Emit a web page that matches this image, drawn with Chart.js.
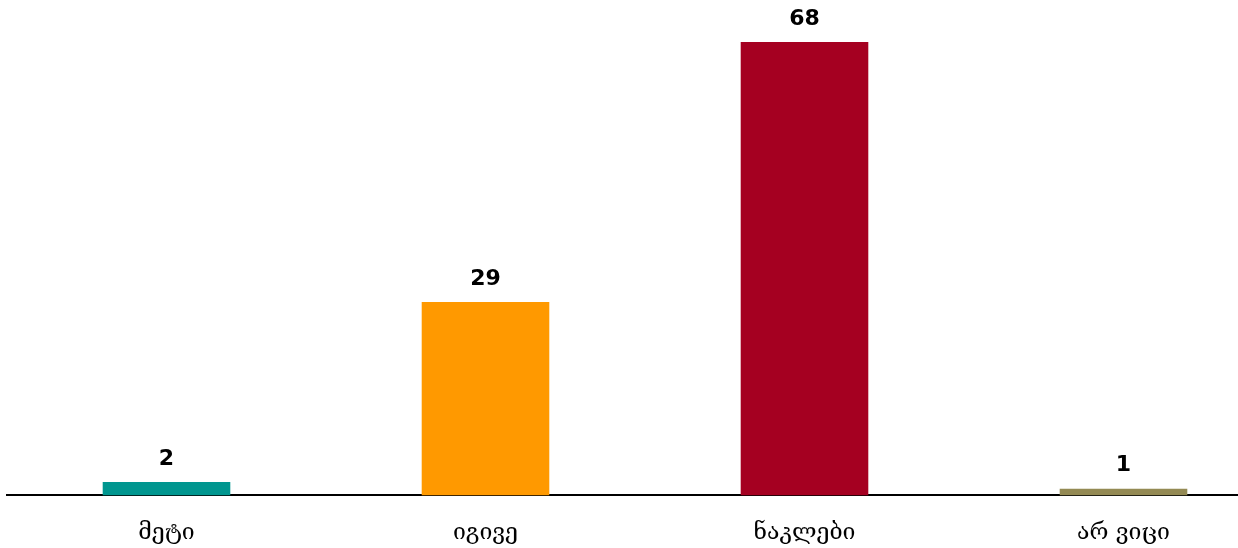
<!DOCTYPE html>
<html>
<head>
<meta charset="utf-8">
<script src="https://cdn.jsdelivr.net/npm/chart.js@4/dist/chart.umd.min.js"></script>
<style>
html,body{margin:0;padding:0;background:#fff;overflow:hidden;}
#wrap{position:relative;width:1283px;height:571px;}
</style>
</head>
<body>
<div id="wrap"><canvas id="c"></canvas></div>
<script>
const categories = ["მეტი", "იგივე", "ნაკლები", "არ ვიცი"];
const values = [2, 29, 68, 1];
const barColors = ["#00968f", "#ff9900", "#a50021", "#948a54"];

const valueLabels = {
  id: 'valueLabels',
  afterDatasetsDraw(chart) {
    const ctx = chart.ctx;
    const meta = chart.getDatasetMeta(0);
    ctx.save();
    ctx.font = 'bold 22px "DejaVu Sans"';
    ctx.fillStyle = '#000';
    ctx.textAlign = 'center';
    ctx.textBaseline = 'bottom';
    meta.data.forEach((bar, i) => {
      ctx.fillText(String(values[i]), bar.x, bar.y - 12);
    });
    ctx.restore();
  }
};

new Chart(document.getElementById('c'), {
  type: 'bar',
  data: {
    labels: categories,
    datasets: [{
      data: values,
      backgroundColor: barColors,
      borderWidth: 0,
      barPercentage: 0.4,
      categoryPercentage: 1.0
    }]
  },
  options: {
    responsive: true,
    maintainAspectRatio: false,
    animation: false,
    layout: { padding: { left: 7, right: 0, top: 0, bottom: 0 } },
    plugins: { legend: { display: false }, tooltip: { enabled: false } },
    scales: {
      x: {
        grid: { display: true, drawOnChartArea: false, drawTicks: false },
        border: { display: true, color: '#000', width: 2 },
        ticks: { color: '#000', padding: 24, font: { family: '"DejaVu Serif"', size: 23 } }
      },
      y: {
        display: false,
        min: 0,
        max: 74.3
      }
    }
  },
  plugins: [valueLabels]
});
</script>
</body>
</html>
